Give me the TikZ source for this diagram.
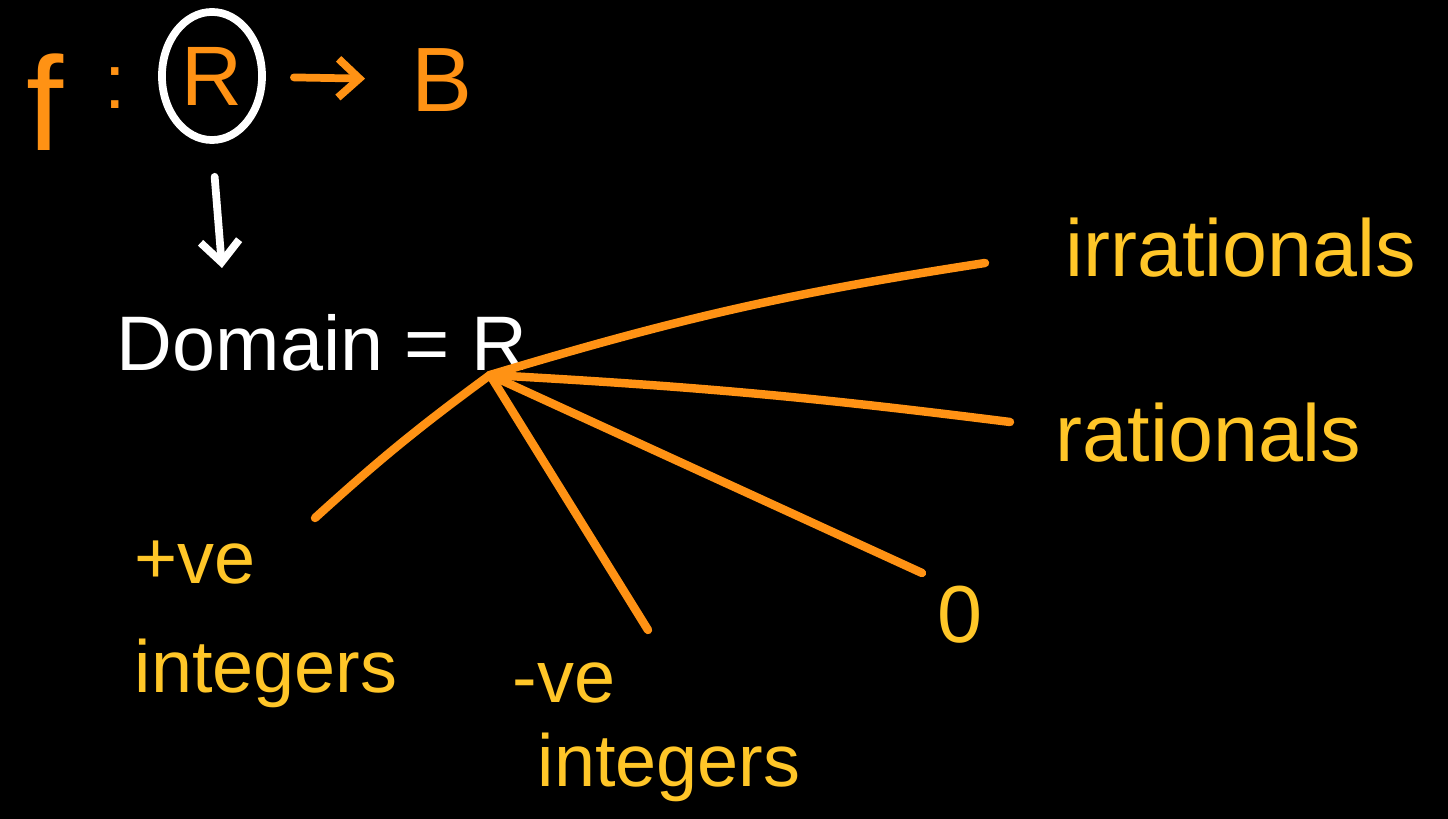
\documentclass[tikz,border=0pt]{standalone}
\usepackage{fontspec}
\setmainfont{Liberation Sans}
\usepackage{xcolor}
\definecolor{laranja}{RGB}{255,146,20}
\definecolor{amarelo}{RGB}{255,198,40}
\definecolor{fundo}{RGB}{0,0,0}
\usetikzlibrary{arrows.meta,shapes.geometric,positioning}

\begin{document}
\begin{tikzpicture}[x=0.01cm,y=-0.01cm,
            rotulo/.style={text=amarelo,font=\fontsize{23}{31}\selectfont,
              inner sep=0pt,align=left},
            ramo/.style={laranja,line width=2.4pt,line cap=round},
            seta/.style={-{Straight Barb[length=6pt,width=11pt]},
              line width=2.2pt,line cap=round}
            ]
            \fill[fundo] (0,0) rectangle (1448,819);
            \useasboundingbox (0,0) rectangle (1448,819);

            \node[text=laranja,font=\fontsize{38}{38}\selectfont] (f) at (45,102) {f};
            \node[text=laranja,font=\fontsize{22}{22}\selectfont] (dp) at (115,88) {:};
            \node[ellipse,draw=white,line width=2.2pt,inner sep=0pt,
            minimum width=1.0cm,minimum height=1.28cm,text=laranja,
            font=\fontsize{24}{24}\selectfont] (dom) at (212,76) {R};
            \node[text=laranja,font=\fontsize{26}{26}\selectfont] (B) at (442,80) {B};
            \draw[seta,laranja,shorten <=0.28cm,shorten >=0.34cm] (dom) -- (B);

            \coordinate (baixo) at (222,268);
            \draw[seta,white,shorten <=0.33cm] (dom.south) -- (baixo);

            \node[text=white,font=\fontsize{22}{22}\selectfont,inner sep=0pt]
            (dominio) at (322,343) {Domain = R};

            \coordinate (no) at (490,375);
            \coordinate (e1) at (985,263);
            \coordinate (e2) at (1010,422);
            \coordinate (e3) at (922,573);
            \coordinate (e4) at (648,630);
            \coordinate (e5) at (315,518);

            \node[rotulo,anchor=west] (irr) at (1065,248) {irrationals};
            \node[rotulo,anchor=west] (rac) at (1055,433) {rationals};
            \node[rotulo] (zero) at (960,615) {0};
            \node[rotulo,anchor=north west,font=\fontsize{21}{31}\selectfont]
            (pos) at (134,540) {+ve\\integers};
            \node[rotulo,anchor=north west,font=\fontsize{21}{24}\selectfont]
            (neg) at (512,662) {-ve\\\hspace*{0.25cm}integers};

            \draw[ramo] (no) to[bend left=4] (e1);
            \draw[ramo] (no) to[bend left=2] (e2);
            \draw[ramo] (no) -- (e3);
            \draw[ramo] (no) -- (e4);
            \draw[ramo] (no) to[bend right=3] (e5);
          \end{tikzpicture}
\end{document}
